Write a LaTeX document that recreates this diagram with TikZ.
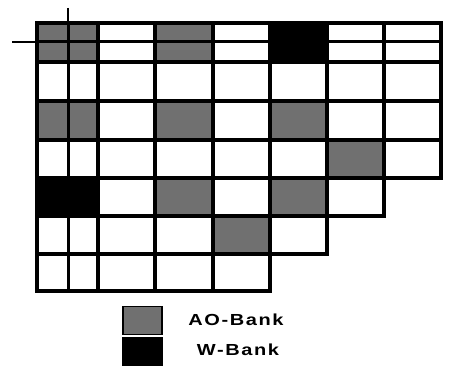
\documentclass[tikz,border=0pt]{standalone}
\usepackage{fontspec}
\usepackage{graphicx}
\setmainfont{Liberation Sans}
\usetikzlibrary{positioning}
\definecolor{aogray}{RGB}{112,112,112}
\tikzset{
  bank grid/.style={line width=3.6pt,draw=black,line cap=rect},
  bank split/.style={line width=3pt,draw=black},
  bank axis/.style={line width=1.6pt,draw=black},
  ao cell/.style={fill=aogray},
  w cell/.style={fill=black},
  key box/.style={draw=black,line width=1.2pt,minimum width=39pt,minimum height=28pt,inner sep=0pt},
  key text/.style={font=\bfseries\fontsize{16}{19}\selectfont\addfontfeatures{LetterSpace=8}}
}
\def\colx{{37,98,155,213,270,327,384,441}}
\def\rowy{{23,62,101,140,178,216,254,291}}

\begin{document}
\begin{tikzpicture}[x=1pt,y=-1pt]
    \useasboundingbox (0,0) rectangle (454,371);
    % shaded banks
    \foreach \c/\r in {1/1,3/1,1/3,3/3,5/3,6/4,3/5,5/5,4/6}
      \fill[ao cell] ({\colx[\c-1]},{\rowy[\r-1]}) rectangle ({\colx[\c]},{\rowy[\r]});
    \foreach \c/\r in {5/1,1/5}
      \fill[w cell] ({\colx[\c-1]},{\rowy[\r-1]}) rectangle ({\colx[\c]},{\rowy[\r]});
    % staircase grid
    \foreach \i/\j in {0/7,1/7,2/7,3/7,4/7,5/6,6/5,7/4} {
      \draw[bank grid] (37,{\rowy[\i]}) -- ({\colx[\j]},{\rowy[\i]});
      \draw[bank grid] ({\colx[\i]},23) -- ({\colx[\i]},{\rowy[\j]});
    }
    \draw[bank split] (68,23) -- (68,291);
    \draw[bank split] (37,42) -- (441,42);
    \draw[bank axis] (68,8) -- (68,23);
    \draw[bank axis] (12,42) -- (37,42);
    % legend
    \node[key box,fill=aogray] (aokey) at (142.5,320.5) {};
    \node[key box,fill=black,below=2pt of aokey] (wkey) {};
    \node[key text] (aolabel) at (236,320) {\scalebox{1.25}[1]{AO-Bank}};
    \node[key text] (wlabel) at (238,350) {\scalebox{1.25}[1]{W-Bank}};
  \end{tikzpicture}
\end{document}
